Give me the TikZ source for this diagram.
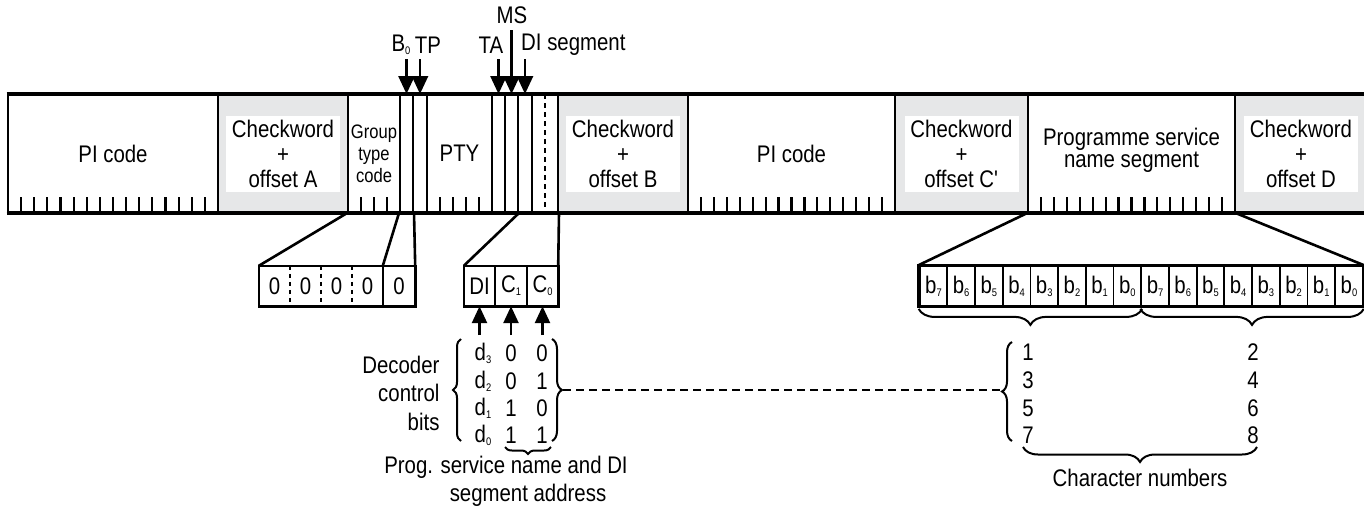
\documentclass[tikz,border=0pt]{standalone}
\usepackage{fontspec}
\setmainfont{Liberation Sans}[FakeStretch=0.85]
\usetikzlibrary{arrows.meta,positioning,calc,decorations.pathreplacing}
\definecolor{cwgray}{RGB}{230,231,232}
\newcommand\lowidx[1]{\raisebox{-3pt}{\fontsize{11}{11}\selectfont #1}}

\begin{document}
\begin{tikzpicture}[x=1pt,y=-1pt,font=\fontsize{24}{25}\selectfont,
   blk/.style={draw,line width=2.6pt,minimum height=117pt,inner sep=0pt},
   bitcol/.style={draw,line width=2pt,minimum height=117pt,inner sep=0pt},
   cw/.style={blk,fill=cwgray},
   cwtxt/.style={fill=white,minimum width=114pt,minimum height=76pt,inner sep=0pt,align=center},
   tck/.style={line width=2.2pt},
   dn/.style={line width=2.6pt,-{Triangle[length=18pt,width=16pt]}},
   up/.style={line width=2.6pt,-{Triangle[length=17pt,width=15pt]}},
   cell/.style={minimum width=31pt,minimum height=40pt,inner sep=0pt},
   bcell/.style={draw,line width=1.8pt,minimum width=27.7pt,minimum height=40pt,inner sep=0pt},
   frm/.style={line width=2.6pt},
   sep/.style={line width=2pt},
   brc/.style={decorate,decoration={brace,amplitude=#1},line width=2pt},
   lab/.style={inner sep=0pt}]
  \useasboundingbox (0,0) rectangle (1364,509);
  % the block
  \node[blk,minimum width=210pt] (pia) at (113,153.5) {PI code};
  \node[cw,minimum width=130pt] (cwa) at (283,153.5) {};
  \node[cwtxt] (cwat) at (cwa) {Checkword\\+\\offset A};
  \node[blk,minimum width=52pt,align=center,font=\fontsize{19.5}{22}\selectfont] (gtc) at (374,153.5) {Group\\type\\code};
  \node[blk,minimum width=65pt] (pty) at (459.5,153.5) {PTY};
  \node[cw,minimum width=130pt] (cwb) at (623,153.5) {};
  \node[cwtxt] (cwbt) at (cwb) {Checkword\\+\\offset B};
  \node[blk,minimum width=207pt] (pib) at (791.5,153.5) {PI code};
  \node[cw,minimum width=133pt] (cwc) at (961.5,153.5) {};
  \node[cwtxt] (cwct) at (cwc) {Checkword\\+\\offset C\textquotesingle};
  \node[blk,minimum width=207pt] (psn) at (1131.5,153.5) {};
  \node[align=center,font=\fontsize{24}{22}\selectfont] (psnt) at (1131.5,150) {Programme service\\name segment};
  \node[cw,minimum width=140pt] (cwd) at (1305,153.5) {};
  \node[cwtxt] (cwdt) at (1301,153.5) {Checkword\\+\\offset D};
  \node[bitcol,minimum width=13pt] (b0) at (406.5,153.5) {};
  \node[bitcol,minimum width=14pt] (tp) at (420,153.5) {};
  \node[bitcol,minimum width=13pt] (ta) at (498.5,153.5) {};
  \node[bitcol,minimum width=13pt] (ms) at (511.5,153.5) {};
  \node[bitcol,minimum width=14pt] (di) at (525,153.5) {};
  \node[bitcol,minimum width=26pt] (cc) at (545,153.5) {};
  \draw[sep,dash pattern=on 5pt off 4pt] (cc.north) -- (cc.south);
  \draw[frm] (pia.north west) -- (cwd.north east);
  \draw[frm] (pia.south west) -- (cwd.south east);
  \foreach \k in {1,...,15} {
    \draw[tck] ({8+\k*210/16},212) -- ++(0,-15);
    \draw[tck] ({688+\k*207/16},212) -- ++(0,-15);
    \draw[tck] ({1028+\k*207/16},212) -- ++(0,-15);
  }
  \foreach \k in {1,2,3} \draw[tck] ({348+\k*13},212) -- ++(0,-15);
  \foreach \k in {1,...,4} \draw[tck] ({427+\k*13},212) -- ++(0,-15);

  % flags above
  \node[lab] (b0lab) at (401,45) {B\lowidx{0}};
  \node[lab] (tplab) at (428,45) {TP};
  \node[lab] (talab) at (491,45) {TA};
  \node[lab] (mslab) at (512,15) {MS};
  \node[lab,anchor=west] (dilab) at (521,45) {DI segment};
  \draw[dn] ([yshift=35pt]b0.north) -- (b0.north);
  \draw[dn] ([yshift=35pt]tp.north) -- (tp.north);
  \draw[dn] ([yshift=35pt]ta.north) -- (ta.north);
  \draw[dn] ([yshift=64pt]ms.north) -- (ms.north);
  \draw[dn] ([yshift=35pt]di.north) -- (di.north);

  % group type expanded
  \node[cell] (g1) at (274.5,286) {0};
  \node[cell] (g2) at (305.5,286) {0};
  \node[cell] (g3) at (336.5,286) {0};
  \node[cell] (g4) at (367.5,286) {0};
  \node[cell,minimum width=32pt] (g5) at (399,286) {0};
  \foreach \g in {g1,g2,g3}
    \draw[sep,dash pattern=on 4pt off 4pt] (\g.north east) -- (\g.south east);
  \draw[sep] (g4.north east) -- (g4.south east);
  \draw[frm] (g1.north west) rectangle (g5.south east);
  \draw[frm] (gtc.south west) -- (g1.north west);
  \draw[frm] (b0.south west) -- (g5.north west);
  \draw[frm] (b0.south east) -- (g5.north east);

  % DI segment expanded
  \node[cell] (xdi) at (479.5,286) {DI};
  \node[cell,minimum width=32pt] (xc1) at (511,286) {C\lowidx{1}};
  \node[cell] (xc0) at (542.5,286) {C\lowidx{0}};
  \draw[sep] (xdi.north east) -- (xdi.south east);
  \draw[sep] (xc1.north east) -- (xc1.south east);
  \draw[frm] (xdi.north west) rectangle (xc0.south east);
  \draw[frm] (ms.south east) -- (xdi.north west);
  \draw[frm] (cc.south east) -- (xc0.north east);
  \foreach \x in {xdi,xc1,xc0}
    \draw[up] ([yshift=-29pt]\x.south) -- (\x.south);

  % decoder table
  \node[anchor=east,align=right,font=\fontsize{24}{28.5}\selectfont] (dcb) at (443,393) {Decoder\\control\\bits};
  \foreach \r/\y/\a/\b in {3/353/0/0,2/381/0/1,1/408/1/0,0/435/1/1} {
    \node (dd\r) at (483,\y) {d\lowidx{\r}};
    \node (da\r) at (511,\y) {\a};
    \node (db\r) at (542,\y) {\b};
  }
  \draw[brc=8pt] (461,441) -- (461,339);
  \draw[brc=10pt] (552,339) -- (552,441);
  \draw[brc=7pt] (551,447) -- (505,447);
  \node (progl1) at (506,467) {Prog. service name and DI};
  \node (progl2) at (528,495) {segment address};
  \coordinate (tbtip) at (563,390);
  \coordinate (nmtip) at (1002,390);
  \draw[sep,dash pattern=on 8pt off 5pt] (tbtip) -- (nmtip);

  % PS name bits
  \foreach \i in {1,...,16} {
    \pgfmathtruncatemacro\bb{mod(16-\i,8)}
    \node[bcell] (bit\i) at ({919.6+(\i-0.5)*27.7},286) {b\lowidx{\bb}};
  }
  \draw[frm] (bit1.north west) rectangle (bit16.south east);
  \draw[frm] (psn.south west) -- (bit1.north west);
  \draw[frm] (psn.south east) -- (bit16.north east);
  \draw[brc=16pt,decoration={raise=2pt}] (bit8.south east) -- (bit1.south west);
  \draw[brc=16pt,decoration={raise=2pt}] (bit16.south east) -- (bit9.south west);

  % character numbers
  \foreach \r/\y/\a/\b in {1/352/1/2,2/380/3/4,3/408/5/6,4/435/7/8} {
    \node (na\r) at (1028,\y) {\a};
    \node (nb\r) at (1253,\y) {\b};
  }
  \draw[brc=10pt] (1012,441) -- (1012,342);
  \draw[brc=15pt] (1257,447) -- (1023,447);
  \node (chn) at (1140,478) {Character numbers};
\end{tikzpicture}
\end{document}
